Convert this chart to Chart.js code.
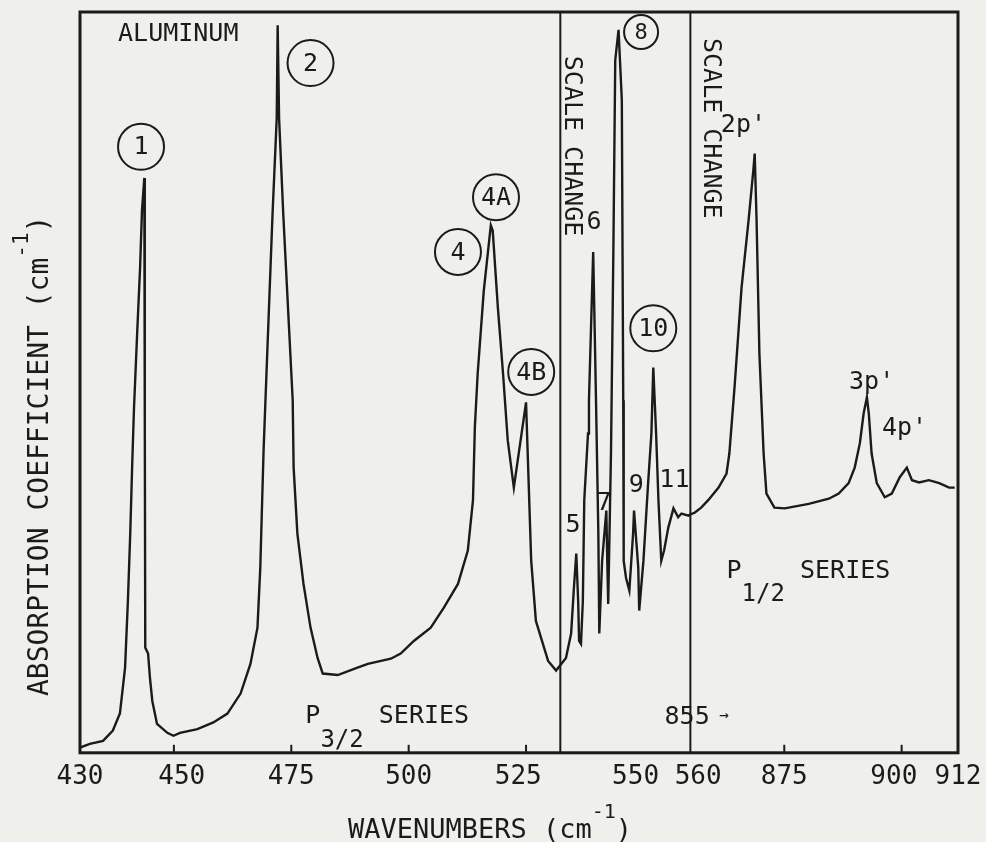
<!DOCTYPE html>
<html>
<head>
<meta charset="utf-8">
<title>Aluminum absorption spectrum</title>
<script src="https://cdn.jsdelivr.net/npm/chart.js@4.4.0/dist/chart.umd.min.js"></script>
<style>
  html, body { margin: 0; padding: 0; background: #efefec; }
  #wrap { width: 986px; height: 842px; }
</style>
</head>
<body>
<div id="wrap"><canvas id="spectrum" width="986" height="842"></canvas></div>
<script>
// absorption trace, arbitrary units (0 = bottom of frame, 100 = top)
const wavenumbers = [
  430.0, 432.1, 434.9, 437.0, 438.5, 439.6, 440.2, 440.7, 441.1, 441.5,
  442.2, 442.8, 443.2, 443.7, 443.8, 443.8, 443.9, 444.5, 444.9, 445.4,
  446.4, 448.6, 449.9, 451.3, 455.0, 458.4, 461.4, 464.2, 466.3, 467.8,
  468.4, 468.8, 469.1, 469.5, 471.0, 471.9, 472.1, 472.4, 473.3, 475.3,
  475.5, 476.3, 477.6, 479.1, 480.6, 481.7, 484.9, 489.1, 491.3, 496.2,
  498.3, 501.1, 504.7, 507.5, 510.5, 512.6, 513.7, 514.1, 514.7, 516.0,
  517.5, 517.9, 519.0, 520.1, 521.1, 522.4, 525.0, 526.1, 527.1, 529.7,
  531.4, 533.5, 534.6, 535.2, 535.7, 536.1, 536.3, 536.7, 537.1, 537.4,
  538.2, 538.4, 539.3, 539.5, 539.9, 540.4, 540.6, 541.2, 542.1, 542.3,
  542.5, 543.1, 543.6, 544.0, 544.7, 545.4, 545.7, 545.8, 546.3, 547.0,
  547.8, 548.0, 548.9, 549.1, 550.0, 551.0, 551.7, 552.1, 552.7, 553.2,
  553.8, 554.4, 555.3, 556.4, 557.4, 558.1, 559.6, 560.0,
  855.9, 857.3, 858.8, 861.0, 862.7, 863.3, 864.4, 865.9, 867.4, 868.4,
  868.7, 869.1, 869.7, 870.6, 871.2, 872.9, 875.1, 880.2, 884.5, 886.6,
  888.7, 890.0, 891.1, 891.9, 892.6, 893.0, 893.6, 894.7, 896.4, 897.9,
  899.6, 901.1, 902.2, 903.7, 905.8, 908.0, 910.1, 911.3
];
const absorption = [
  0.7, 1.2, 1.6, 3.0, 5.3, 11.5, 20.5, 29.6, 38.5, 46.5,
  57.0, 65.5, 73.2, 77.6, 74.6, 44.9, 14.2, 13.4, 10.1, 7.0,
  3.9, 2.7, 2.3, 2.7, 3.2, 4.1, 5.3, 8.0, 12.0, 16.9,
  25.0, 34.1, 40.8, 47.6, 72.6, 85.7, 98.2, 85.7, 72.6, 47.6,
  38.5, 29.6, 22.8, 16.9, 12.8, 10.7, 10.5, 11.5, 12.0, 12.7,
  13.4, 15.1, 16.9, 19.6, 22.8, 27.3, 34.1, 44.0, 51.2, 62.4,
  71.2, 70.5, 60.1, 51.2, 42.2, 35.8, 47.3, 25.9, 17.8, 12.4,
  11.1, 12.8, 16.1, 22.3, 26.9, 20.5, 15.1, 14.7, 20.5, 34.1,
  43.1, 47.6, 67.6, 61.1, 47.6, 29.6, 16.1, 25.9, 32.7, 25.9,
  20.1, 40.8, 67.8, 93.5, 97.6, 88.1, 47.6, 25.9, 23.6, 21.9,
  29.6, 32.7, 25.0, 19.2, 25.9, 36.4, 43.1, 52.0, 43.1, 34.1,
  25.9, 27.3, 30.4, 33.0, 31.8, 32.3, 32.0, 32.2,
  32.4, 33.1, 34.1, 35.8, 37.7, 40.4, 49.3, 62.8, 71.9, 78.6,
  80.9, 71.9, 53.9, 40.4, 35.0, 33.1, 33.0, 33.6, 34.3, 35.0,
  36.4, 38.5, 41.8, 45.8, 48.0, 45.8, 40.4, 36.4, 34.5, 35.0,
  37.2, 38.5, 36.8, 36.5, 36.8, 36.4, 35.8, 35.8
];

const tickValues = [430, 450, 475, 500, 525, 550, 560, 875, 900, 912];
// hand-lettered tick labels sit a little off their ticks
const tickLabels = ['430', ' 450', '475', '500', '525 ', '550 ', ' 560', '875', '900 ', '912'];
const markedTicks = [450, 475, 500, 525, 875, 900];
const scaleChanges = [532.3, 560];

// peak labels: text, wavenumber, absorption at label centre
const circledText = ['1', '2', '4', '4A', '4B', '8', '10'];
const circledAt = [[443.0, 81.8], [479.1, 93.1], [510.5, 67.6], [518.6, 75.0], [526.1, 51.4], [549.5, 97.3], [552.1, 57.3]];
const plainText = ['5', '6', '7', '9', '11', "2p'", "3p'", "4p'"];
const plainAt = [[535.0, 30.7], [539.5, 71.6], [541.6, 33.6], [548.5, 36.1], [556.6, 36.8], [866.3, 84.7], [893.6, 50.0], [900.6, 43.8]];

// the axis jumps from 560 straight to 855
const BREAK_LO = 560, BREAK_HI = 855;
function toAxis(w) { return w <= BREAK_LO ? w : w - (BREAK_HI - BREAK_LO); }

const INK = '#1b1b1b';
const FONT = '"DejaVu Sans Mono", monospace';

const points = wavenumbers.map((w, i) => ({ x: toAxis(w), y: absorption[i] }));
const changeLines = scaleChanges.map(w => ({
  data: [{ x: toAxis(w), y: 0 }, { x: toAxis(w), y: 100 }],
  borderColor: INK, borderWidth: 2, pointRadius: 0
}));

function font(size) { return size + 'px ' + FONT; }

// text with a raised or lowered part: pieces = [[text, size, dy], ...]
function pieceWidth(ctx, pieces) {
  let w = 0;
  pieces.forEach(p => { ctx.font = font(p[1]); w += ctx.measureText(p[0]).width; });
  return w;
}
function drawPieces(ctx, pieces, x, y) {
  ctx.textAlign = 'left';
  ctx.textBaseline = 'alphabetic';
  pieces.forEach(p => {
    ctx.font = font(p[1]);
    ctx.fillText(p[0], x, y + p[2]);
    x += ctx.measureText(p[0]).width;
  });
}

const inkPlugin = {
  id: 'ink',
  afterDatasetsDraw(chart) {
    const { ctx, chartArea: a, scales: { x, y } } = chart;
    const px = w => x.getPixelForValue(toAxis(w));
    const py = v => y.getPixelForValue(v);
    ctx.save();
    ctx.strokeStyle = INK;
    ctx.fillStyle = INK;

    // frame and inward tick marks
    ctx.lineWidth = 3;
    ctx.strokeRect(a.left, a.top, a.right - a.left, a.bottom - a.top);
    ctx.lineWidth = 2;
    markedTicks.forEach(t => {
      ctx.beginPath();
      ctx.moveTo(px(t), a.bottom);
      ctx.lineTo(px(t), a.bottom - 8);
      ctx.stroke();
    });

    // circled peak numbers
    circledText.forEach((t, i) => {
      const cx = px(circledAt[i][0]), cy = py(circledAt[i][1]);
      const r = t === '8' ? 17 : 23;
      ctx.beginPath();
      ctx.arc(cx, cy, r, 0, Math.PI * 2);
      ctx.lineWidth = 2;
      ctx.stroke();
      ctx.font = font(t === '8' ? 22 : 25);
      ctx.textAlign = 'center';
      ctx.textBaseline = 'middle';
      ctx.fillText(t, cx, cy + 1);
    });

    // plain peak labels
    ctx.font = font(25);
    ctx.textAlign = 'center';
    ctx.textBaseline = 'middle';
    plainText.forEach((t, i) => ctx.fillText(t, px(plainAt[i][0]), py(plainAt[i][1])));

    ctx.textAlign = 'left';
    ctx.fillText('ALUMINUM', px(438.1), py(97.0));

    // vertical notes beside the scale-change lines
    [[534.6, 81.9], [859.3, 84.3]].forEach(p => {
      ctx.save();
      ctx.translate(px(p[0]), py(p[1]));
      ctx.rotate(Math.PI / 2);
      ctx.font = font(25);
      ctx.textAlign = 'center';
      ctx.textBaseline = 'middle';
      ctx.fillText('SCALE CHANGE', 0, 0);
      ctx.restore();
    });

    drawPieces(ctx, [['P', 25, 0], ['3/2', 24, 24], [' SERIES', 25, 0]], px(478.0), py(4.05));
    drawPieces(ctx, [['P', 25, 0], ['1/2', 24, 23], [' SERIES', 25, 0]], px(862.7), py(23.6));
    drawPieces(ctx, [['855', 25, 0], [' \u2192', 16, -4]], px(554.5), py(3.9));

    // axis titles
    const xt = [['WAVENUMBERS (cm', 27, 0], ['-1', 20, -20], [')', 27, 0]];
    drawPieces(ctx, xt, 490 - pieceWidth(ctx, xt) / 2, 838);

    const yt = [['ABSORPTION COEFFICIENT (cm', 28, 0], ['-1', 21, -20], [')', 28, 0]];
    ctx.save();
    ctx.translate(48, 696);
    ctx.rotate(-Math.PI / 2);
    drawPieces(ctx, yt, 0, 0);
    ctx.restore();

    ctx.restore();
  }
};

new Chart(document.getElementById('spectrum'), {
  type: 'line',
  data: {
    datasets: [{
      data: points,
      borderColor: INK,
      borderWidth: 2.4,
      pointRadius: 0,
      tension: 0,
      fill: false
    }].concat(changeLines)
  },
  options: {
    responsive: false,
    animation: false,
    devicePixelRatio: 1,
    layout: { padding: { left: 80, right: 28, top: 12, bottom: 40 } },
    plugins: { legend: { display: false }, tooltip: { enabled: false } },
    scales: {
      x: {
        type: 'linear',
        min: 430,
        max: toAxis(912),
        afterBuildTicks: axis => { axis.ticks = tickValues.map(t => ({ value: toAxis(t) })); },
        // end labels fit inside the layout padding already
        afterFit: axis => { axis.paddingLeft = 0; axis.paddingRight = 0; },
        ticks: {
          autoSkip: false,
          maxRotation: 0,
          padding: 9,
          color: INK,
          font: { family: FONT, size: 26 },
          callback: v => tickLabels[tickValues.findIndex(t => toAxis(t) === v)]
        },
        grid: { display: false, drawTicks: false },
        border: { display: false }
      },
      y: { display: false, min: 0, max: 100 }
    }
  },
  plugins: [inkPlugin]
});
</script>
</body>
</html>
